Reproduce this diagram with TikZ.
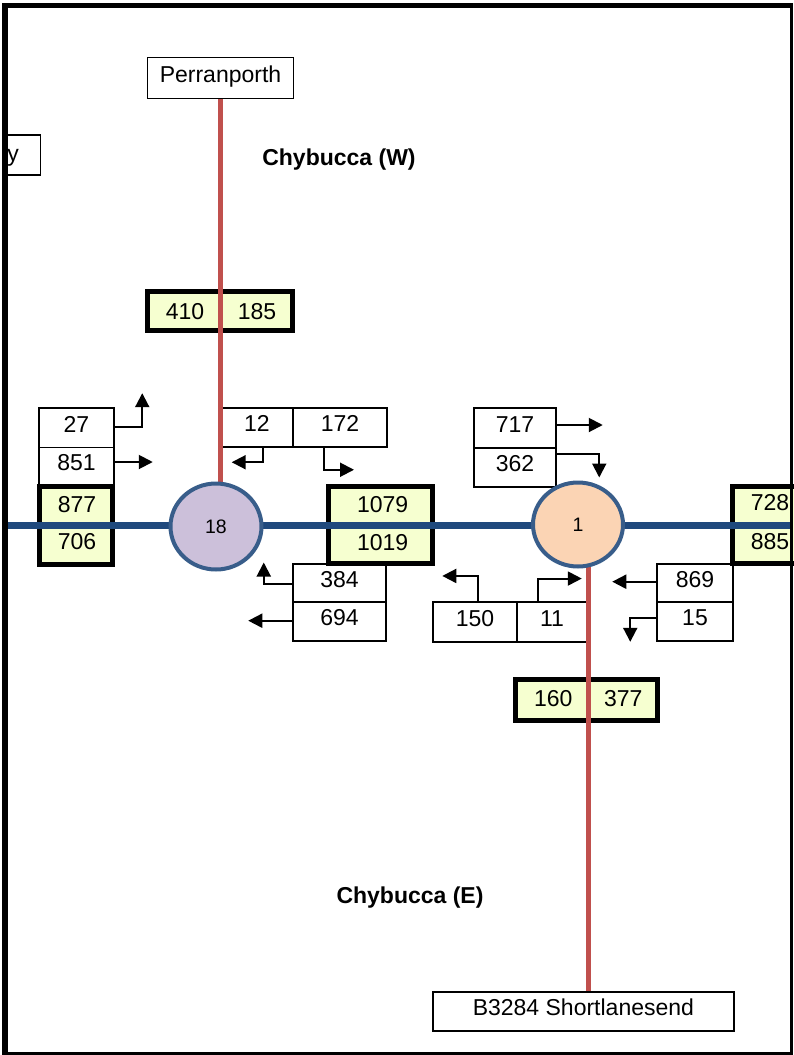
\documentclass[tikz,border=0pt]{standalone}
\usepackage{fontspec}
\setmainfont{Liberation Sans}
\usetikzlibrary{arrows.meta,shapes.geometric}
\definecolor{roadblue}{RGB}{31,73,125}
\definecolor{roadred}{RGB}{192,80,77}
\definecolor{ringblue}{RGB}{56,93,138}
\definecolor{lilac}{RGB}{204,192,218}
\definecolor{peach}{RGB}{251,212,180}
\definecolor{paleyellow}{RGB}{246,255,208}
\pgfdeclarelayer{boxes}
\pgfdeclarelayer{roads}
\pgfsetlayers{boxes,roads,main}

\begin{document}
\begin{tikzpicture}[x=1pt,y=-1pt,
  txt/.style={font=\fontsize{23}{27}\selectfont, inner sep=0pt},
  cell/.style={draw=black, line width=1.5pt, fill=white, inner sep=0pt,
    text height=16.5pt, text depth=8.5pt, font=\fontsize{23}{27}\selectfont},
  count/.style={draw=black, line width=5pt, fill=paleyellow, inner sep=0pt},
  junction/.style={ellipse, draw=ringblue, line width=4pt, inner sep=0pt,
    font=\fontsize{19.5}{23}\selectfont},
  road/.style={line width=7pt, roadblue},
  sideroad/.style={line width=5pt, roadred},
  turn/.style={line width=2pt, -{Triangle[length=14pt,width=14pt]}},
  area/.style={font=\bfseries\fontsize{23}{27}\selectfont, inner sep=0pt, anchor=base}
]
\useasboundingbox (0,0) rectangle (793,1055);

\begin{pgfonlayer}{boxes}
  % destination boxes
  \node[cell, minimum width=37pt, minimum height=40pt] (westbox) at (22.2,155) {};
  \node[cell, minimum width=146pt, minimum height=41pt] (perranporth) at (220.5,78) {Perranporth};
  \node[cell, minimum width=301pt, minimum height=39pt] (shortlanesend) at (583.4,1011.7) {B3284 Shortlanesend};

  % turning-movement cells
  \node[cell, minimum width=75pt, minimum height=40pt] (n27)  at (76.5,428) {27};
  \node[cell, minimum width=75pt, minimum height=37pt] (n851) at (76.5,466) {851};
  \node[cell, minimum width=72pt, minimum height=39pt] (n12)  at (257,427.5) {12};
  \node[cell, minimum width=94pt, minimum height=39pt] (n172) at (340,427.5) {172};
  \node[cell, minimum width=93pt, minimum height=38pt] (n384) at (339.5,583) {384};
  \node[cell, minimum width=93pt, minimum height=39pt] (n694) at (339.5,621.5) {694};
  \node[cell, minimum width=82pt, minimum height=40pt] (n717) at (515,428) {717};
  \node[cell, minimum width=82pt, minimum height=39pt] (n362) at (515,467.5) {362};
  \node[cell, minimum width=84pt, minimum height=40pt] (n150) at (475,622) {150};
  \node[cell, minimum width=70pt, minimum height=40pt] (n11)  at (552,622) {11};
  \node[cell, minimum width=76pt, minimum height=38pt] (n869) at (695,583) {869};
  \node[cell, minimum width=76pt, minimum height=39pt] (n15)  at (695,621.5) {15};

  % link count boxes
  \node[count, minimum width=145pt, minimum height=39pt] (cntN) at (220,311) {};
  \node[count, minimum width=73pt, minimum height=78pt] (cntW) at (76,525.5) {};
  \node[count, minimum width=104pt, minimum height=77pt] (cntM) at (380.5,525) {};
  \node[count, minimum width=80pt, minimum height=77pt] (cntE) at (772.5,525) {};
  \node[count, minimum width=142pt, minimum height=41pt] (cntS) at (586.5,700) {};
\end{pgfonlayer}

% junctions
\node[junction, fill=lilac, minimum width=91pt, minimum height=86pt] (j18) at (216,526.5) {18};
\node[junction, fill=peach, minimum width=90pt, minimum height=84pt] (j1) at (578,524.5) {1};

\begin{pgfonlayer}{roads}
  \coordinate (roadW) at (4,525.5);
  \coordinate (roadE) at (793,525.5);
  \draw[road] (roadW) -- (roadE);
  \draw[sideroad] (perranporth.south) -- (perranporth.south |- j18.center);
  \draw[sideroad] ([xshift=10.5pt]j1.center) -- ([xshift=10.5pt]j1.center |- shortlanesend.north);
\end{pgfonlayer}

% counts
\node[txt] (l410)  at (185,311.5) {410};
\node[txt] (l185)  at (257,311.5) {185};
\node[txt] (l877)  at (77,505) {877};
\node[txt] (l706)  at (77,542) {706};
\node[txt] (l1079) at (382.7,505) {1079};
\node[txt] (l1019) at (382.7,542.3) {1019};
\node[txt] (l728)  at (770,503) {728};
\node[txt] (l885)  at (770,541.7) {885};
\node[txt] (l160)  at (553.3,699) {160};
\node[txt] (l377)  at (623.3,699) {377};
\node[txt, anchor=base east] (westtext) at (19,161.5) {y};

% turning arrows
\draw[turn] ([yshift=1.3pt]n27.east) -- ++(27.5,0) -- ++(0,-33.5);
\draw[turn] ([yshift=4pt]n851.east) -- ++(38,0);
\draw[turn] ([xshift=5.7pt]n12.south) -- ++(0,14.5) -- ++(-31,0);
\draw[turn] ([xshift=-16pt]n172.south) -- ++(0,22) -- ++(30,0);
\draw[turn] ([yshift=-0.5pt]n384.west) -- ++(-28.5,0) -- ++(0,-21);
\draw[turn] ([yshift=0.8pt]n694.west) -- ++(-44,0);
\draw[turn] ([yshift=3pt]n717.east) -- ++(46,0);
\draw[turn] ([yshift=13.5pt]n362.east) -- ++(42.5,0) -- ++(0,23.5);
\draw[turn] ([xshift=3.3pt]n150.north) -- ++(0,-25.3) -- ++(-36,0);
\draw[turn] ([xshift=-13.7pt]n11.north) -- ++(0,-22.7) -- ++(43.5,0);
\draw[turn] ([yshift=1.3pt]n869.west) -- ++(-44,0);
\draw[turn] ([yshift=3.2pt]n15.west) -- ++(-26,0) -- ++(0,23.5);

% area names
\node[area] (chyW) at (339,165) {Chybucca (W)};
\node[area] (chyE) at (410,903.3) {Chybucca (E)};

% page frame
\fill[black] (1.7,2.7) rectangle (7.5,1055);
\fill[black] (1.7,2.7) rectangle (793,8.3);
\fill[black] (789.7,2.7) rectangle (793,1055);
\fill[black] (1.7,1052) rectangle (793,1055);
\end{tikzpicture}
\end{document}
